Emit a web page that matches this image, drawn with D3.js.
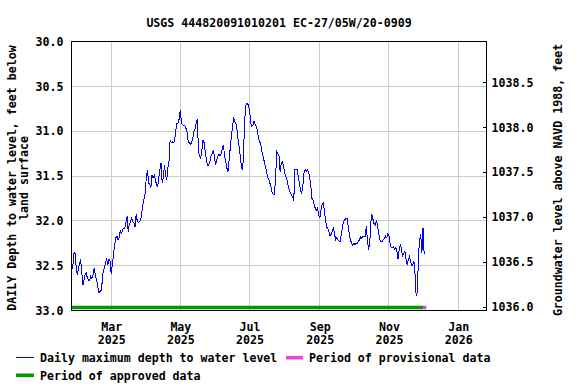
<!DOCTYPE html>
<html>
<head>
<meta charset="utf-8">
<script src="https://cdn.jsdelivr.net/npm/d3@7"></script>
<style>
  body { margin: 0; background: #fff; }
  svg text { font-family: "DejaVu Sans Mono", "Liberation Mono", monospace; font-weight: bold; font-size: 11.6px; fill: #000; }
</style>
</head>
<body>
<svg id="chart" width="576" height="384"></svg>
<script>
// Chart data
const title = "USGS 444820091010201 EC-27/05W/20-0909";
const firstDay = "2025-01-25"; // daily values start here
const depthFeet = [
  32.53, 32.53, 32.37, 32.35, 32.49, 32.60, 32.54, 32.49, 32.43, 32.56, 32.72, 32.66,
  32.60, 32.58, 32.64, 32.66, 32.67, 32.62, 32.64, 32.60, 32.53, 32.60, 32.66, 32.71,
  32.80, 32.79, 32.78, 32.69, 32.56, 32.53, 32.47, 32.43, 32.49, 32.43, 32.45, 32.59,
  32.49, 32.38, 32.28, 32.19, 32.17, 32.21, 32.19, 32.10, 32.15, 32.10, 32.08, 32.08,
  32.02, 31.95, 32.12, 32.04, 32.01, 31.97, 32.01, 32.02, 32.07, 31.93, 32.00, 32.02,
  32.01, 31.99, 31.91, 31.82, 31.75, 31.69, 31.51, 31.43, 31.58, 31.59, 31.63, 31.49,
  31.52, 31.49, 31.54, 31.60, 31.62, 31.52, 31.43, 31.35, 31.58, 31.51, 31.38, 31.49,
  31.54, 31.41, 31.33, 31.10, 31.13, 31.12, 31.13, 31.10, 30.99, 30.91, 30.91, 30.86,
  30.76, 30.91, 30.93, 30.94, 30.94, 30.97, 31.02, 31.12, 31.13, 31.15, 31.12, 31.08,
  31.00, 30.97, 30.91, 30.87, 31.23, 31.28, 31.30, 31.21, 31.10, 31.13, 31.23, 31.32,
  31.38, 31.38, 31.34, 31.28, 31.25, 31.21, 31.28, 31.38, 31.32, 31.28, 31.26, 31.28,
  31.25, 31.19, 31.15, 31.28, 31.34, 31.41, 31.45, 31.32, 31.19, 31.06, 30.95, 30.86,
  30.89, 30.91, 30.99, 31.10, 31.19, 31.30, 31.41, 31.43, 31.13, 30.84, 30.69, 30.69,
  30.71, 30.76, 30.91, 30.95, 30.93, 30.89, 30.93, 30.95, 31.00, 31.08, 31.12, 31.15,
  31.23, 31.28, 31.34, 31.39, 31.45, 31.51, 31.54, 31.58, 31.62, 31.69, 31.71, 31.71,
  31.51, 31.23, 31.25, 31.28, 31.45, 31.36, 31.34, 31.39, 31.47, 31.51, 31.54, 31.60,
  31.65, 31.69, 31.71, 31.73, 31.78, 31.43, 31.42, 31.43, 31.51, 31.58, 31.67, 31.69,
  31.62, 31.47, 31.43, 31.45, 31.43, 31.45, 31.51, 31.60, 31.75, 31.77, 31.82, 31.86,
  31.88, 31.86, 31.93, 31.97, 31.88, 31.82, 31.80, 31.88, 31.99, 32.07, 32.08, 32.12,
  32.17, 32.15, 32.12, 32.07, 32.15, 32.21, 32.19, 32.21, 32.23, 32.23, 32.15, 32.06,
  32.01, 31.99, 31.97, 31.97, 32.06, 32.15, 32.21, 32.25, 32.27, 32.25, 32.27, 32.25,
  32.25, 32.23, 32.21, 32.18, 32.20, 32.17, 32.17, 32.17, 32.06, 32.21, 32.32, 32.25,
  32.02, 31.93, 31.99, 32.04, 32.05, 31.99, 32.06, 32.15, 32.21, 32.23, 32.23, 32.21,
  32.20, 32.17, 32.19, 32.14, 32.17, 32.25, 32.30, 32.30, 32.29, 32.32, 32.30, 32.34,
  32.43, 32.32, 32.26, 32.32, 32.40, 32.36, 32.34, 32.43, 32.49, 32.43, 32.40, 32.44,
  32.50, 32.49, 32.45, 32.60, 32.84, 32.79, 32.40, 32.21, 32.15, 32.36, 32.08, 32.37
];
const approvedPeriod = ["2025-01-25", "2025-12-01"];
const provisionalPeriod = ["2025-12-01", "2025-12-04"];
const depthTicks = [30.0, 30.5, 31.0, 31.5, 32.0, 32.5, 33.0];
const elevTicks = [1036.0, 1036.5, 1037.0, 1037.5, 1038.0, 1038.5];
const landSurfaceElev = 1068.957; // NAVD 1988, used to convert depth -> level
const monthTicks = ["2025-03-01", "2025-05-01", "2025-07-01", "2025-09-01", "2025-11-01", "2026-01-01"];
const monthNames = ["Mar", "May", "Jul", "Sep", "Nov", "Jan"];
const monthYears = ["2025", "2025", "2025", "2025", "2025", "2026"];

// Plot box
const box = { left: 71.5, right: 486.5, top: 41.5, bottom: 310.5 };
const parse = d3.utcParse("%Y-%m-%d");

const svg = d3.select("#chart");

const x = d3.scaleUtc()
    .domain([parse("2025-01-25"), parse("2026-01-26")])
    .range([box.left, box.right]);

const y = d3.scaleLinear()
    .domain([30, 33])
    .range([box.top, box.bottom]);

const yElev = d3.scaleLinear()
    .domain([landSurfaceElev - 30, landSurfaceElev - 33])
    .range([box.top, box.bottom]);

const start = parse(firstDay);
const series = depthFeet.map((v, i) => ({ date: d3.utcDay.offset(start, i), depth: v }));

// Title
svg.append("text")
    .attr("x", (box.left + box.right) / 2)
    .attr("y", 26.5)
    .attr("text-anchor", "middle")
    .text(title);

// Gridlines
svg.append("g")
    .selectAll("line")
    .data(depthTicks.slice(1, -1))
    .enter()
    .append("line")
    .attr("x1", box.left).attr("x2", box.right)
    .attr("y1", d => y(d)).attr("y2", d => y(d))
    .attr("stroke", "#cccccc")
    .attr("shape-rendering", "crispEdges");

svg.append("g")
    .selectAll("line")
    .data(monthTicks.map(parse))
    .enter()
    .append("line")
    .attr("x1", d => x(d)).attr("x2", d => x(d))
    .attr("y1", box.top).attr("y2", box.bottom)
    .attr("stroke", "#cccccc")
    .attr("shape-rendering", "crispEdges");

// Approved / provisional bars along the bottom
const barY = y(33) - 3;
svg.append("line")
    .attr("x1", x(parse(approvedPeriod[0]))).attr("x2", x(parse(approvedPeriod[1])))
    .attr("y1", barY).attr("y2", barY)
    .attr("stroke", "#009900").attr("stroke-width", 3.6);
svg.append("line")
    .attr("x1", x(parse(provisionalPeriod[0]))).attr("x2", x(parse(provisionalPeriod[1])))
    .attr("y1", barY).attr("y2", barY)
    .attr("stroke", "#ee44dd").attr("stroke-width", 3.6);

// Daily max depth line
svg.append("path")
    .datum(series)
    .attr("fill", "none")
    .attr("stroke", "#0000ff")
    .attr("stroke-width", 1)
    .attr("shape-rendering", "crispEdges")
    .attr("d", d3.line().x(d => x(d.date)).y(d => y(d.depth)));

// Frame
svg.append("rect")
    .attr("x", box.left).attr("y", box.top)
    .attr("width", box.right - box.left).attr("height", box.bottom - box.top)
    .attr("fill", "none").attr("stroke", "#000")
    .attr("shape-rendering", "crispEdges");

// Left axis
const leftAxis = svg.append("g")
    .attr("transform", `translate(${box.left},0)`)
    .call(d3.axisLeft(y).tickValues(depthTicks).tickFormat(d3.format(".1f")).tickSize(0).tickPadding(8));
leftAxis.select(".domain").remove();

// Right axis, ticks inside the frame
const rightAxis = svg.append("g")
    .attr("transform", `translate(${box.right},0)`)
    .call(d3.axisRight(yElev).tickValues(elevTicks).tickFormat(d3.format(".1f")).tickSizeInner(-4).tickPadding(5));
rightAxis.select(".domain").remove();
rightAxis.selectAll("line").attr("shape-rendering", "crispEdges");

// Bottom axis with two-line labels
const bottomAxis = svg.append("g")
    .attr("transform", `translate(0,${box.bottom})`)
    .call(d3.axisBottom(x).tickValues(monthTicks.map(parse)).tickSize(0));
bottomAxis.select(".domain").remove();
bottomAxis.selectAll(".tick text").remove();
bottomAxis.selectAll(".tick").each(function (d, i) {
    const t = d3.select(this).append("text").attr("text-anchor", "middle");
    t.append("tspan").attr("x", 0).attr("y", 20.5).text(monthNames[i]);
    t.append("tspan").attr("x", 0).attr("y", 33.5).text(monthYears[i]);
});

// Axis titles
const leftTitle = svg.append("text")
    .attr("transform", `translate(0,178)rotate(-90)`)
    .attr("text-anchor", "middle");
leftTitle.append("tspan").attr("x", 0).attr("y", 16).text("DAILY Depth to water level, feet below");
leftTitle.append("tspan").attr("x", 0).attr("y", 28).text("land surface");

svg.append("text")
    .attr("transform", `translate(561.5,180)rotate(-90)`)
    .attr("text-anchor", "middle")
    .text("Groundwater level above NAVD 1988, feet");

// Legend
svg.append("line")
    .attr("x1", 16).attr("x2", 34).attr("y1", 357.5).attr("y2", 357.5)
    .attr("stroke", "#0000ff").attr("stroke-width", 1);
svg.append("text").attr("x", 40).attr("y", 362).text("Daily maximum depth to water level");

svg.append("line")
    .attr("x1", 286).attr("x2", 303).attr("y1", 357.7).attr("y2", 357.7)
    .attr("stroke", "#ee44dd").attr("stroke-width", 3.6);
svg.append("text").attr("x", 309).attr("y", 362).text("Period of provisional data");

svg.append("line")
    .attr("x1", 16).attr("x2", 34).attr("y1", 375.3).attr("y2", 375.3)
    .attr("stroke", "#009900").attr("stroke-width", 3.6);
svg.append("text").attr("x", 40).attr("y", 379.7).text("Period of approved data");
</script>
</body>
</html>
